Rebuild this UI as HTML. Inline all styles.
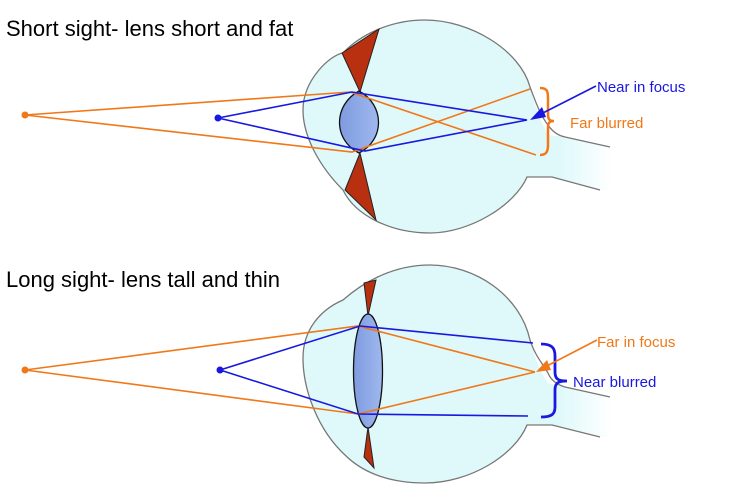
<!DOCTYPE html>
<html><head><style>body{margin:0;background:#fff}svg{display:block}</style></head><body>
<svg width="750" height="500" viewBox="0 0 750 500" xmlns="http://www.w3.org/2000/svg" font-family="Liberation Sans, sans-serif">
<defs>
<linearGradient id="lg" x1="0" y1="0" x2="1" y2="0"><stop offset="0" stop-color="#7f9be0"/><stop offset="1" stop-color="#9fb8ee"/></linearGradient>
<linearGradient id="ng" gradientUnits="userSpaceOnUse" x1="560" y1="0" x2="612" y2="0"><stop offset="0" stop-color="#dff9fa"/><stop offset="1" stop-color="#fff"/></linearGradient>
</defs>
<text x="6" y="36" font-size="22" fill="#000">Short sight- lens short and fat</text>
<text x="6" y="287" font-size="22" fill="#000">Long sight- lens tall and thin</text>

<!-- top eye -->
<path d="M548,135 L565,137 L610,147 L610,190 L600,190 L552,177 L527,177 C515,205 470,233 430,233 C390,233 355,215 343,190 C318,165 303,135 303,110 C303,80 330,55 343,53 C360,35 390,20 425,20 C470,20 520,50 530,87 C535,105 540,120 548,135 Z" fill="url(#ng)"/>
<path d="M610,147 L565,137 C555,135 550,128 548,125 C540,115 535,100 530,87 C520,50 470,20 425,20 C390,20 360,35 343,53 C330,55 303,80 303,110 C303,135 318,165 343,190 C355,215 390,233 430,233 C470,233 515,205 527,177 L552,177 L600,190" fill="none" stroke="#777" stroke-width="1.3"/>
<polygon points="342,53 379,29 360,92" fill="#b83010" stroke="#222" stroke-width="1"/>
<polygon points="345,190 376,220 360,153" fill="#b83010" stroke="#222" stroke-width="1"/>
<path d="M359,91 C385,105 385,140 359,153 C333,140 333,105 359,91 Z" fill="url(#lg)" stroke="#111" stroke-width="1.3"/>
<g stroke-width="1.6" fill="none">
<polyline points="25,115 350,92 536,155" stroke="#f07818"/>
<polyline points="25,115 352,152 530,89" stroke="#f07818"/>
<polyline points="218,118 352,92 527,120 365,151 218,118" stroke="#1818e0"/>
<path d="M540,88 C548,88 548,92 548,100 L548,114 C548,120 550,121 554,121 C550,121 548,122 548,128 L548,145 C548,152 546,155 540,155" stroke="#f07818" stroke-width="2.5"/>
<line x1="596" y1="86" x2="535" y2="117" stroke="#1818e0"/>
</g>
<polygon points="530,120 542,107 546,117" fill="#1818e0"/>
<circle cx="25" cy="115" r="3.5" fill="#f07818"/>
<circle cx="218" cy="118" r="3.5" fill="#1818e0"/>
<text x="597" y="92" font-size="15" fill="#1818e0">Near in focus</text>
<text x="570" y="128" font-size="15" fill="#f07818">Far blurred</text>

<!-- bottom eye -->
<path d="M548,383 L565,387 L610,397 L610,437 L600,437 L552,425 L527,425 C515,455 470,483 425,483 C385,483 360,470 345,455 C318,430 303,390 303,358 C303,330 320,310 343,300 C360,285 390,265 430,265 C475,265 520,295 530,340 C535,358 540,373 548,383 Z" fill="url(#ng)"/>
<path d="M610,397 L565,387 C555,384 550,378 548,373 C540,360 535,355 530,340 C520,295 475,265 430,265 C390,265 360,285 343,300 C320,310 303,330 303,358 C303,390 318,430 345,455 C360,470 385,483 425,483 C470,483 515,455 527,425 L552,425 L600,437" fill="none" stroke="#777" stroke-width="1.3"/>
<polygon points="364,283 376,280 368,316" fill="#b83010" stroke="#222" stroke-width="1"/>
<polygon points="364,457 374,468 368,427" fill="#b83010" stroke="#222" stroke-width="1"/>
<ellipse cx="368" cy="371" rx="14.5" ry="57" fill="url(#lg)" stroke="#111" stroke-width="1.3"/>
<g stroke-width="1.6" fill="none">
<polyline points="25,370 358,326 535,372" stroke="#f07818"/>
<polyline points="25,370 358,414 535,372" stroke="#f07818"/>
<polyline points="220,370 360,326 533,343" stroke="#1818e0"/>
<polyline points="220,370 358,414 528,416" stroke="#1818e0"/>
<path d="M541,344 C552,344 555,348 555,356 L555,372 C555,379 558,381 567,381 C558,381 555,383 555,390 L555,407 C555,414 552,417 541,417" stroke="#1818e0" stroke-width="2.8"/>
<line x1="597" y1="340" x2="541" y2="369" stroke="#f07818"/>
</g>
<polygon points="536,372 547,360 551,370" fill="#f07818"/>
<circle cx="25" cy="370" r="3.5" fill="#f07818"/>
<circle cx="220" cy="370" r="3.5" fill="#1818e0"/>
<text x="597" y="347" font-size="15" fill="#f07818">Far in focus</text>
<text x="573" y="387" font-size="15" fill="#1818e0">Near blurred</text>
</svg>
</body></html>
